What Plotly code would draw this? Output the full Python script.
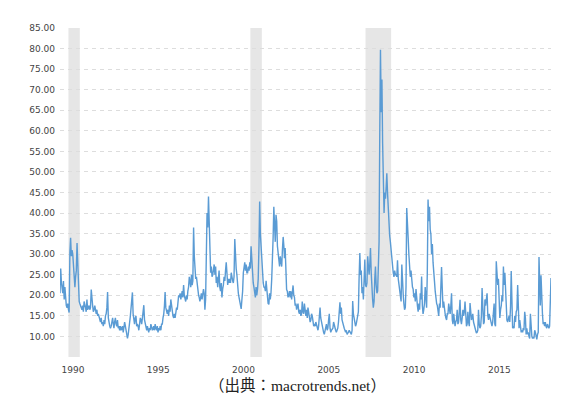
import plotly.graph_objects as go

# VIX, semi-monthly readings (1st and 16th of each month), estimated from the chart
vix_1990 = [20.5, 26.5, 23.0, 21.0, 20.5, 23.5, 19.0, 22.0, 18.5, 17.5, 17.0, 18.0, 16.5, 15.8, 30.5, 34.0, 29.5, 31.0, 30.0, 28.0, 24.0, 22.0, 24.5, 26.0]
vix_1991 = [32.7, 26.0, 20.5, 18.5, 18.0, 17.5, 17.0, 16.5, 17.5, 16.0, 18.5, 18.0, 17.0, 16.0, 19.0, 16.5, 17.0, 17.5, 16.5, 17.0, 21.4, 18.5, 17.5, 16.0]
vix_1992 = [16.5, 17.5, 16.0, 15.5, 16.5, 15.0, 15.5, 14.5, 14.0, 13.5, 14.5, 13.0, 13.5, 12.5, 14.0, 13.0, 15.0, 15.5, 17.0, 20.8, 14.5, 13.0, 12.5, 12.0]
vix_1993 = [12.5, 13.5, 14.5, 13.0, 12.0, 13.5, 14.5, 13.0, 12.5, 14.0, 12.0, 12.5, 11.5, 12.5, 11.5, 12.0, 12.5, 11.0, 12.0, 13.5, 12.5, 11.0, 10.5, 9.5]
vix_1994 = [10.5, 11.5, 13.5, 15.0, 16.5, 18.0, 20.7, 15.5, 14.0, 13.0, 14.5, 15.0, 12.5, 13.0, 12.5, 11.5, 13.0, 14.5, 14.0, 13.0, 14.5, 16.5, 17.6, 14.0]
vix_1995 = [13.0, 12.0, 11.5, 12.5, 12.0, 11.0, 12.0, 11.5, 13.0, 12.5, 11.5, 12.0, 12.5, 11.5, 13.0, 12.0, 11.5, 12.5, 11.0, 12.0, 11.5, 12.5, 11.5, 13.0]
vix_1996 = [13.0, 14.5, 15.5, 17.5, 20.8, 17.0, 16.0, 15.5, 16.5, 15.0, 17.5, 16.0, 19.0, 17.5, 16.0, 15.0, 14.5, 15.5, 14.5, 16.0, 17.0, 16.5, 19.0, 20.0]
vix_1997 = [19.5, 20.5, 19.0, 20.5, 21.0, 19.5, 22.5, 20.0, 19.0, 18.5, 20.0, 19.0, 21.0, 22.0, 24.5, 23.0, 22.0, 25.0, 22.5, 23.5, 36.5, 29.5, 27.5, 24.0]
vix_1998 = [24.5, 22.5, 21.0, 20.0, 19.5, 18.5, 19.5, 20.5, 19.0, 20.0, 21.5, 20.5, 16.5, 19.0, 30.0, 40.0, 36.5, 44.0, 38.0, 28.0, 25.5, 27.0, 24.5, 25.0]
vix_1999 = [26.5, 27.5, 25.0, 27.0, 23.0, 24.5, 22.0, 24.5, 26.0, 22.0, 21.0, 23.0, 19.5, 21.5, 22.5, 24.5, 23.5, 26.0, 28.0, 25.5, 22.5, 24.0, 23.0, 24.0]
vix_2000 = [23.0, 25.5, 24.0, 23.5, 23.0, 24.5, 33.7, 27.5, 26.5, 25.0, 22.0, 20.5, 19.5, 18.5, 17.5, 16.7, 19.0, 21.0, 25.5, 27.0, 28.0, 26.0, 27.5, 25.5]
vix_2001 = [25.5, 27.0, 26.0, 28.0, 26.5, 31.9, 28.0, 25.0, 23.0, 22.0, 20.5, 19.5, 22.0, 20.0, 21.5, 24.0, 32.0, 42.8, 35.0, 31.0, 27.0, 24.0, 23.0, 22.0]
vix_2002 = [22.0, 21.0, 23.5, 21.5, 19.0, 18.0, 17.8, 20.5, 19.0, 20.5, 24.0, 27.5, 34.0, 41.5, 35.0, 33.0, 39.6, 38.0, 32.0, 30.0, 27.5, 27.0, 29.5, 28.0]
vix_2003 = [27.0, 31.0, 34.2, 32.0, 29.0, 31.5, 25.0, 21.4, 21.0, 19.5, 20.0, 21.0, 19.5, 21.0, 19.0, 20.5, 22.4, 20.0, 19.5, 17.5, 18.0, 16.5, 17.0, 18.0]
vix_2004 = [16.0, 15.5, 16.5, 15.0, 15.5, 18.5, 16.0, 15.5, 18.0, 16.0, 15.0, 16.5, 14.5, 17.0, 15.5, 14.0, 13.5, 14.0, 15.5, 15.0, 13.5, 12.5, 13.0, 12.5]
vix_2005 = [13.5, 12.5, 12.0, 11.5, 12.5, 14.0, 17.0, 14.5, 13.5, 12.0, 11.5, 11.0, 10.5, 11.5, 12.5, 13.0, 11.5, 12.0, 14.0, 15.5, 12.0, 11.0, 11.5, 12.0]
vix_2006 = [12.0, 13.5, 12.5, 11.5, 11.5, 11.0, 11.5, 12.0, 13.5, 16.5, 18.3, 15.5, 17.0, 14.0, 13.0, 12.0, 12.0, 11.5, 11.0, 11.5, 10.5, 10.8, 11.0, 11.5]
vix_2007 = [11.0, 10.5, 10.5, 11.5, 18.6, 15.5, 14.0, 13.0, 12.5, 13.0, 14.5, 16.0, 16.0, 24.0, 30.3, 25.0, 26.0, 20.5, 22.0, 19.0, 25.5, 28.7, 22.5, 22.0]
vix_2008 = [23.0, 29.5, 27.0, 25.0, 27.5, 31.5, 25.5, 21.0, 19.0, 17.0, 18.5, 24.0, 27.0, 22.5, 20.5, 21.0, 25.5, 33.0, 59.5, 79.7, 64.5, 72.5, 57.0, 42.0]
vix_2009 = [40.0, 45.0, 43.5, 46.5, 49.7, 45.0, 40.0, 37.5, 34.5, 33.0, 30.5, 28.0, 27.5, 25.5, 24.5, 26.0, 25.0, 25.0, 24.5, 28.5, 24.0, 22.5, 21.5, 21.0]
vix_2010 = [18.5, 27.5, 22.0, 20.0, 18.0, 16.5, 17.0, 22.0, 41.2, 35.0, 34.0, 30.0, 25.5, 24.5, 26.0, 23.5, 22.0, 21.5, 19.5, 20.5, 18.5, 21.5, 17.5, 17.5]
vix_2011 = [16.0, 18.0, 16.5, 20.5, 19.0, 24.6, 17.5, 15.5, 16.5, 18.0, 22.0, 17.5, 17.0, 25.5, 43.3, 38.0, 41.5, 36.0, 34.8, 30.0, 32.5, 28.0, 24.0, 23.5]
vix_2012 = [21.0, 18.5, 18.0, 17.5, 15.5, 15.0, 18.0, 17.0, 22.0, 26.9, 21.5, 17.0, 18.5, 16.0, 15.5, 14.5, 14.0, 15.5, 15.5, 18.0, 16.5, 15.5, 17.5, 20.5]
vix_2013 = [14.0, 13.0, 15.5, 14.0, 12.5, 13.5, 14.0, 16.5, 13.0, 13.5, 17.5, 18.9, 14.0, 13.0, 14.5, 16.5, 15.0, 16.0, 18.5, 13.5, 12.5, 13.0, 16.0, 13.5]
vix_2014 = [12.5, 18.1, 15.0, 14.0, 14.5, 15.5, 13.5, 13.0, 12.5, 11.5, 10.8, 11.0, 11.5, 16.5, 13.0, 12.0, 12.5, 15.0, 21.8, 16.5, 13.0, 13.5, 19.0, 17.5]
vix_2015 = [19.0, 20.5, 15.0, 14.0, 15.5, 14.5, 13.5, 12.5, 12.5, 13.5, 16.0, 18.0, 13.0, 12.5, 28.3, 26.0, 22.5, 24.0, 17.0, 14.5, 16.5, 17.5, 20.0, 18.5]
vix_2016 = [27.0, 22.5, 25.5, 20.5, 16.5, 14.0, 13.5, 14.0, 15.0, 13.5, 17.0, 25.9, 12.5, 12.0, 12.5, 12.0, 15.0, 13.5, 16.0, 16.5, 22.5, 13.0, 12.0, 14.0]
vix_2017 = [11.5, 11.0, 11.5, 11.0, 12.0, 11.5, 16.0, 14.5, 10.5, 12.0, 10.5, 11.0, 10.0, 9.5, 15.5, 11.5, 10.0, 9.5, 9.8, 9.5, 11.5, 11.0, 10.0, 9.3]
vix_2018 = [10.5, 11.0, 29.3, 19.5, 17.5, 24.9, 16.0, 15.5, 13.0, 13.5, 12.5, 13.5, 12.5, 12.0, 13.0, 12.5, 12.0, 12.5, 21.0, 24.2]

yearly = [vix_1990, vix_1991, vix_1992, vix_1993, vix_1994, vix_1995, vix_1996, vix_1997,
          vix_1998, vix_1999, vix_2000, vix_2001, vix_2002, vix_2003, vix_2004, vix_2005,
          vix_2006, vix_2007, vix_2008, vix_2009, vix_2010, vix_2011, vix_2012, vix_2013,
          vix_2014, vix_2015, vix_2016, vix_2017, vix_2018]
first_year = 1990

dates, values = [], []
for i, vals in enumerate(yearly):
    yr = first_year + i
    for j, v in enumerate(vals):
        m = j // 2 + 1
        d = 1 if j % 2 == 0 else 16
        dates.append(f"{yr}-{m:02d}-{d:02d}")
        values.append(v)

# Recession periods (shaded)
recession_starts = ["1990-07-01", "2001-03-01", "2007-12-01"]
recession_ends = ["1991-03-01", "2001-11-01", "2009-06-01"]

x_tick_years = [1990, 1995, 2000, 2005, 2010, 2015]
y_tick_values = [5, 10, 15, 20, 25, 30, 35, 40, 45, 50, 55, 60, 65, 70, 75, 80, 85]
y_tick_labels = [""] + [f"{v:.2f}" for v in y_tick_values[1:]]

caption = "（出典：macrotrends.net）"

fig = go.Figure()
fig.add_trace(go.Scatter(
    x=dates, y=values, mode="lines",
    line=dict(color="#5a9bd4", width=1.4),
    hoverinfo="x+y", showlegend=False,
))

for s, e in zip(recession_starts, recession_ends):
    fig.add_shape(type="rect", xref="x", yref="paper", x0=s, x1=e, y0=0, y1=1,
                  fillcolor="#e6e6e6", line=dict(width=0), layer="below")

fig.update_layout(
    width=572, height=404,
    margin=dict(l=52, r=29, t=20, b=55),
    paper_bgcolor="white", plot_bgcolor="white",
    font=dict(family="DejaVu Sans, Verdana, sans-serif", size=9, color="#444444"),
    xaxis=dict(
        type="date",
        range=[dates[0], dates[-1]],
        tickvals=[f"{y}-01-01" for y in x_tick_years],
        ticktext=[str(y) for y in x_tick_years],
        showgrid=False, zeroline=False, showline=False,
        ticks="", ticklabelshift=13, ticklabelstandoff=6,
        tickfont=dict(size=9, color="#444444"),
    ),
    yaxis=dict(
        range=[5, 85],
        tickvals=y_tick_values, ticktext=y_tick_labels,
        showgrid=True, gridcolor="#dddddd", griddash="4px,4px", gridwidth=1,
        zeroline=False, showline=False, ticks="", ticklabelstandoff=4,
        tickfont=dict(size=9, color="#444444"),
    ),
    annotations=[dict(
        text=caption, xref="paper", yref="paper", x=0.483, y=-0.055,
        xanchor="center", yanchor="top", showarrow=False,
        font=dict(family="Liberation Serif, Noto Sans CJK JP, serif", size=15.5, color="#222222"),
    )],
)

fig.write_html("out.html")
